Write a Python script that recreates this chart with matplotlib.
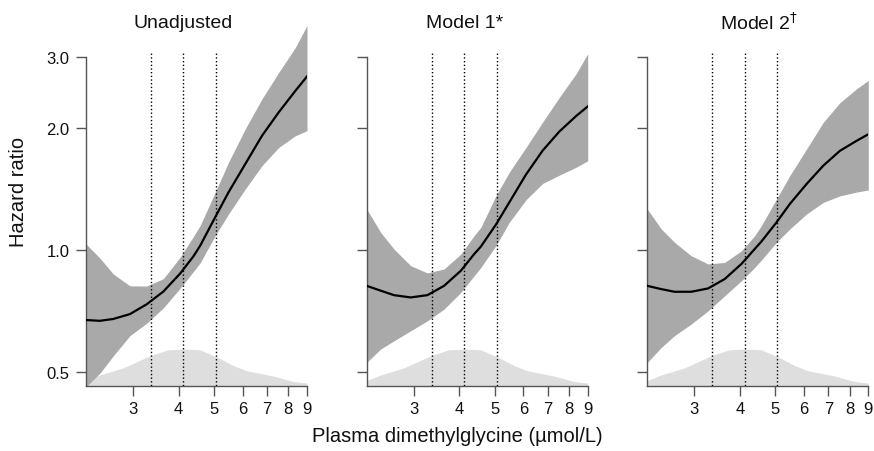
import matplotlib
matplotlib.use("Agg")
import matplotlib.pyplot as plt
from matplotlib.ticker import FixedLocator, FixedFormatter, NullLocator
import numpy as np

plt.rcParams['font.family'] = ['Liberation Sans', 'DejaVu Sans']

# DMG grid (umol/L) at which curves/bands were read
x_grid = [2.23, 2.435, 2.648, 2.943, 3.272, 3.634, 4.04, 4.394, 4.585,
          5.041, 5.484, 6.095, 6.775, 7.525, 8.363, 9.0]

hr_unadj = [0.672, 0.669, 0.676, 0.695, 0.735, 0.79, 0.875, 0.965, 1.025,
            1.205, 1.388, 1.63, 1.914, 2.185, 2.47, 2.68]
hi_unadj = [1.035, 0.955, 0.873, 0.816, 0.815, 0.85, 0.96, 1.08, 1.15,
            1.388, 1.646, 1.99, 2.36, 2.74, 3.16, 3.58]
lo_unadj = [0.46, 0.497, 0.548, 0.615, 0.66, 0.72, 0.805, 0.885, 0.93,
            1.085, 1.227, 1.414, 1.615, 1.79, 1.914, 1.97]

hr_m1 = [0.816, 0.794, 0.774, 0.764, 0.774, 0.816, 0.889, 0.977, 1.02,
         1.155, 1.31, 1.535, 1.76, 1.96, 2.14, 2.26]
hi_m1 = [1.262, 1.106, 1.006, 0.915, 0.878, 0.898, 0.977, 1.085, 1.138,
         1.36, 1.555, 1.79, 2.07, 2.38, 2.72, 3.05]
lo_m1 = [0.528, 0.570, 0.597, 0.632, 0.669, 0.715, 0.786, 0.864, 0.906,
         1.025, 1.17, 1.33, 1.46, 1.53, 1.60, 1.66]

hr_m2 = [0.816, 0.801, 0.789, 0.789, 0.804, 0.848, 0.924, 1.006, 1.05,
         1.17, 1.299, 1.455, 1.615, 1.757, 1.86, 1.93]
hi_m2 = [1.262, 1.127, 1.045, 0.968, 0.924, 0.932, 0.996, 1.085, 1.15,
         1.336, 1.526, 1.775, 2.066, 2.31, 2.50, 2.62]
lo_m2 = [0.528, 0.575, 0.615, 0.657, 0.708, 0.771, 0.840, 0.906, 0.945,
         1.045, 1.127, 1.227, 1.311, 1.36, 1.39, 1.406]

# distribution of DMG (relative density)
dens_x = [2.22, 2.435, 2.82, 3.34, 3.74, 4.12, 4.58, 5.11, 5.66, 6.17, 7.28, 8.26, 9.0]
dens_y = [0.14, 0.30, 0.49, 0.82, 0.98, 1.0, 0.98, 0.78, 0.55, 0.41, 0.27, 0.12, 0.08]

# quartile cut points
cuts = [3.36, 4.12, 5.07]

titles = ['Unadjusted', 'Model 1*', r'Model 2$^{\dagger}$']
curves = [(hr_unadj, lo_unadj, hi_unadj), (hr_m1, lo_m1, hi_m1), (hr_m2, lo_m2, hi_m2)]

x_ticks = [3, 4, 5, 6, 7, 8, 9]
y_ticks = [0.5, 1.0, 2.0, 3.0]
y_labels = ['0.5', '1.0', '2.0', '3.0']

W, H = 874, 452
fig = plt.figure(figsize=(W / 100, H / 100), dpi=100)

lefts = [86, 366.7, 647.3]
title_x = [183, 465, 759]
ax_w = 221
ax_top, ax_bot = 25, 387
spine_col = '#555555'

for i in range(3):
    ax = fig.add_axes([lefts[i] / W, 1 - ax_bot / H, ax_w / W, (ax_bot - ax_top) / H])
    ax.set_xscale('log')
    ax.set_yscale('log')
    ax.set_xlim(2.23, 9.0)
    ax.set_ylim(0.462, 3.61)

    ax.fill_between(dens_x, 0, np.array(dens_y) * 0.102,
                    transform=ax.get_xaxis_transform(),
                    color='#dedede', lw=0, zorder=1)
    hr, lo, hi = curves[i]
    ax.fill_between(x_grid, lo, hi, color='#a9a9a9', lw=0, zorder=2)
    ax.plot(x_grid, hr, color='black', lw=1.6, zorder=3)
    ax.vlines(cuts, 0.3, 3.07, colors='black', linestyles=':', lw=1.0, zorder=4)

    for s in ['top', 'right']:
        ax.spines[s].set_visible(False)
    ax.spines['left'].set_bounds(0.462, 3.0)
    ax.spines['bottom'].set_bounds(2.23, 9.0)
    for s in ['left', 'bottom']:
        ax.spines[s].set_color(spine_col)
        ax.spines[s].set_linewidth(1.0)

    ax.xaxis.set_major_locator(FixedLocator(x_ticks))
    ax.xaxis.set_major_formatter(FixedFormatter([str(t) for t in x_ticks]))
    ax.xaxis.set_minor_locator(NullLocator())
    ax.yaxis.set_major_locator(FixedLocator(y_ticks))
    ax.yaxis.set_minor_locator(NullLocator())
    if i == 0:
        ax.yaxis.set_major_formatter(FixedFormatter(y_labels))
    else:
        ax.yaxis.set_major_formatter(FixedFormatter([''] * 4))
    ax.tick_params(axis='both', length=7.5, width=1.0, color=spine_col,
                   labelsize=12, labelcolor='#111111')
    ax.tick_params(axis='x', pad=3.5)
    ax.tick_params(axis='y', pad=4.5)

    fig.text(title_x[i] / W, 1 - 23 / H, titles[i], ha='center', va='center',
             fontsize=14, color='#111111')

fig.text(457 / W, 1 - 437 / H, 'Plasma dimethylglycine (µmol/L)', ha='center',
         va='center', fontsize=14.5, color='#111111')
fig.text(19 / W, 1 - 192 / H, 'Hazard ratio', ha='center', va='center',
         rotation=90, fontsize=14.5, color='#111111')

fig.savefig('out.png', dpi=100)
